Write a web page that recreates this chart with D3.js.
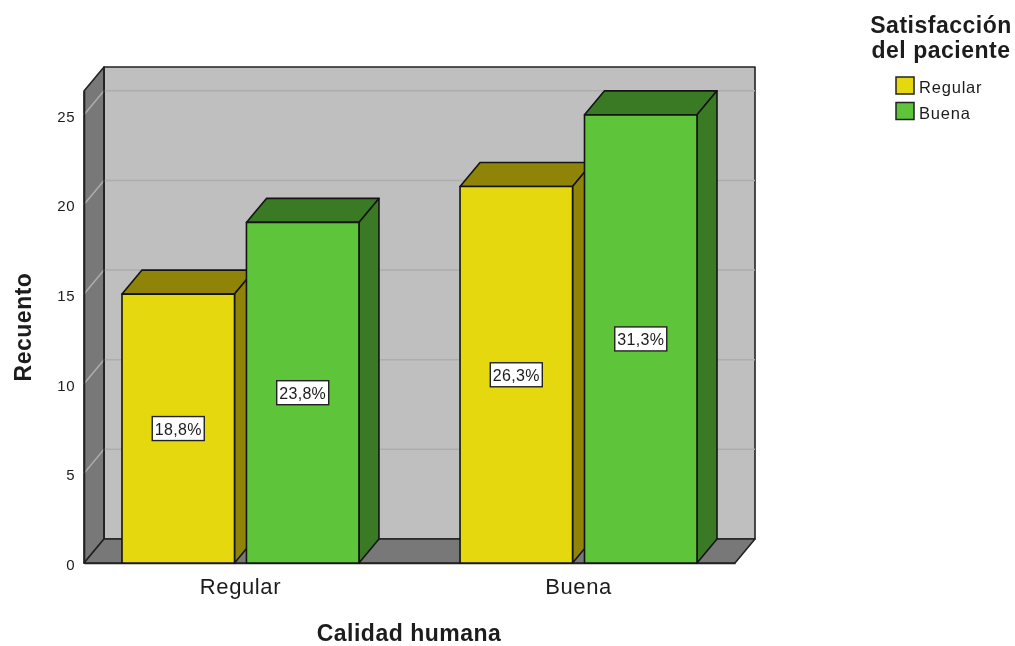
<!DOCTYPE html>
<html>
<head>
<meta charset="utf-8">
<script src="https://cdn.jsdelivr.net/npm/d3@7"></script>
<style>
  body { margin: 0; background: #fff; }
  svg { display: block; filter: blur(0.4px); }
  text { font-family: "Liberation Sans", Arial, sans-serif; fill: #1c1c1c; }
  .wall { stroke: #222; stroke-width: 1.6; stroke-linejoin: round; }
  .bar path { stroke: #141414; stroke-width: 1.6; stroke-linejoin: round; }
  .grid { stroke: #adadad; stroke-width: 1.5; fill: none; }
  .axis path { stroke: #222; stroke-width: 1.6; }
  .axis line { display: none; }
</style>
</head>
<body>
<div id="chart"></div>
<script>
var categories = ['Regular', 'Buena'];
var seriesNames = ['Regular', 'Buena'];
var regularValues = [15, 21];
var buenaValues = [19, 25];
var regularLabels = ['18,8%', '26,3%'];
var buenaLabels = ['23,8%', '31,3%'];
var yTicks = [0, 5, 10, 15, 20, 25];

var colors = {
  Regular: { front: '#e5d80e', side: '#8f8407' },
  Buena: { front: '#5ec43a', side: '#3b7a25' }
};

var svg = d3.select('#chart').append('svg').attr('width', 1015).attr('height', 646);

// oblique projection: how far the back plane is shifted from the front one
var depthX = 20, depthY = -24;

var x0 = d3.scaleBand().domain(categories).range([84, 735]).paddingInner(0.299).paddingOuter(0.1124);
var x1 = d3.scaleBand().domain(seriesNames).range([0, x0.bandwidth()]).paddingInner(0.096);
var y = d3.scaleLinear().domain([0, 26.33]).range([563, 91]);

var line = d3.line();

var plotLeft = x0.range()[0], plotRight = x0.range()[1];
var plotBase = y.range()[0], plotTop = y.range()[1];

// walls
var walls = svg.append('g').attr('class', 'walls');
walls.append('path').attr('class', 'wall').attr('fill', '#bfbfbf')
  .attr('d', line([[plotLeft + depthX, plotBase + depthY], [plotLeft + depthX, plotTop + depthY], [plotRight + depthX, plotTop + depthY], [plotRight + depthX, plotBase + depthY]]) + 'Z');
walls.append('path').attr('class', 'wall').attr('fill', '#787878')
  .attr('d', line([[plotLeft, plotBase], [plotLeft, plotTop], [plotLeft + depthX, plotTop + depthY], [plotLeft + depthX, plotBase + depthY]]) + 'Z');
walls.append('path').attr('class', 'wall').attr('fill', '#787878')
  .attr('d', line([[plotLeft, plotBase], [plotLeft + depthX, plotBase + depthY], [plotRight + depthX, plotBase + depthY], [plotRight, plotBase]]) + 'Z');

// gridlines, back wall and left wall
var grid = svg.append('g').attr('class', 'gridlines');
grid.selectAll('path').data(yTicks.filter(function(d) { return d > 0; }))
  .enter().append('path')
  .attr('class', 'grid')
  .attr('d', function(d) {
    return line([[plotLeft, y(d)], [plotLeft + depthX, y(d) + depthY], [plotRight + depthX, y(d) + depthY]]);
  });

// redraw the wall corner over the gridlines
svg.append('path').attr('class', 'wall').attr('fill', 'none')
  .attr('d', line([[plotLeft + depthX, plotTop + depthY], [plotLeft + depthX, plotBase + depthY]]));

// axes
var yAxis = d3.axisLeft(y).tickValues(yTicks).tickSize(0).tickPadding(9);
var yG = svg.append('g').attr('class', 'axis').attr('transform', 'translate(' + plotLeft + ',0)').call(yAxis);
yG.selectAll('text').attr('font-size', 15).attr('letter-spacing', 0.5).attr('dy', '0.42em');

var xAxis = d3.axisBottom(x0).tickSize(0).tickPadding(15);
var xG = svg.append('g').attr('class', 'axis').attr('transform', 'translate(0,' + plotBase + ')').call(xAxis);
xG.selectAll('text').attr('font-size', 22).attr('letter-spacing', 0.6).attr('fill', '#333');

// bars
function addBars(name, values) {
  var bars = svg.append('g').attr('class', 'bar series-' + name);
  var c = colors[name];
  var w = x1.bandwidth();

  categories.forEach(function(cat, i) {
    var xa = x0(cat) + x1(name), xb = xa + w;
    var yv = y(values[i]);
    bars.append('path').attr('fill', c.side)
      .attr('d', line([[xa, yv], [xa + depthX, yv + depthY], [xb + depthX, yv + depthY], [xb, yv]]) + 'Z');
    bars.append('path').attr('fill', c.side)
      .attr('d', line([[xb, yv], [xb + depthX, yv + depthY], [xb + depthX, plotBase + depthY], [xb, plotBase]]) + 'Z');
    bars.append('path').attr('fill', c.front)
      .attr('d', line([[xa, yv], [xb, yv], [xb, plotBase], [xa, plotBase]]) + 'Z');
  });
}
addBars('Regular', regularValues);
addBars('Buena', buenaValues);

// data labels
function addLabels(name, values, labels) {
  var g = svg.append('g').attr('class', 'labels');
  categories.forEach(function(cat, i) {
    var cx = x0(cat) + x1(name) + x1.bandwidth() / 2;
    var cy = y(values[i] / 2);
    g.append('rect').attr('x', cx - 26).attr('y', cy - 12).attr('width', 52).attr('height', 24)
      .attr('fill', '#fff').attr('stroke', '#222').attr('stroke-width', 1.4);
    g.append('text').attr('x', cx).attr('y', cy + 6).attr('text-anchor', 'middle')
      .attr('font-size', 16).attr('letter-spacing', 0.3).text(labels[i]);
  });
}
addLabels('Regular', regularValues, regularLabels);
addLabels('Buena', buenaValues, buenaLabels);

// axis titles
svg.append('text').attr('x', 409).attr('y', 641).attr('text-anchor', 'middle')
  .attr('font-size', 23).attr('letter-spacing', 0.5).attr('font-weight', 'bold').text('Calidad humana');
svg.append('text').attr('transform', 'translate(31,327) rotate(-90)').attr('text-anchor', 'middle')
  .attr('font-size', 23).attr('letter-spacing', 0.5).attr('font-weight', 'bold').text('Recuento');

// legend
var legend = svg.append('g').attr('class', 'legend');
legend.append('text').attr('x', 941).attr('y', 33).attr('text-anchor', 'middle')
  .attr('font-size', 23).attr('letter-spacing', 0.5).attr('font-weight', 'bold').text('Satisfacción');
legend.append('text').attr('x', 941).attr('y', 58).attr('text-anchor', 'middle')
  .attr('font-size', 23).attr('letter-spacing', 0.5).attr('font-weight', 'bold').text('del paciente');

seriesNames.forEach(function(name, i) {
  var ly = 77 + i * 25.5;
  legend.append('rect').attr('x', 896).attr('y', ly).attr('width', 18).attr('height', 17)
    .attr('fill', colors[name].front).attr('stroke', '#222').attr('stroke-width', 1.5);
  legend.append('text').attr('x', 919).attr('y', ly + 16).attr('font-size', 16.5)
    .attr('letter-spacing', 0.8).attr('fill', '#333').text(name);
});
</script>
</body>
</html>
